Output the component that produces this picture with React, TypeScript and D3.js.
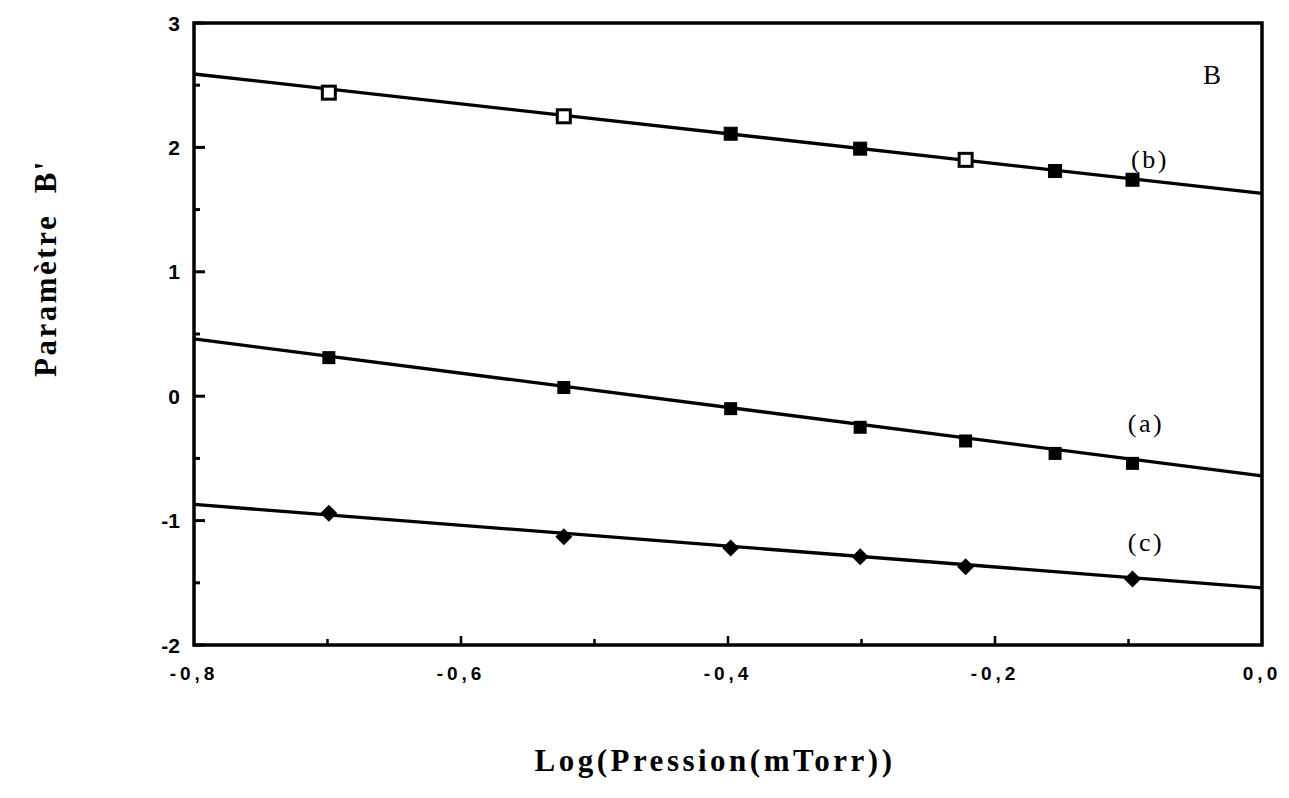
import React from "react";
import * as d3 from "d3";

// Log of pressure (mTorr): log10(0.2) ... log10(0.8)
const logP = [-0.699, -0.523, -0.398, -0.301, -0.222, -0.155, -0.097];
const logPc = [-0.699, -0.523, -0.398, -0.301, -0.222, -0.097];

// Paramètre B' for each series
const seriesA = [0.31, 0.07, -0.1, -0.25, -0.36, -0.46, -0.54];
const seriesB = [2.44, 2.25, 2.11, 1.99, 1.9, 1.81, 1.74];
const seriesC = [-0.94, -1.13, -1.22, -1.29, -1.37, -1.47];
// open (hollow) markers in series (b)
const hollowB = [true, true, false, false, true, false, false];

// fitted straight lines: values at x = -0.8 and x = 0.0
const fitX = [-0.8, 0.0];
const fitA = [0.46, -0.64];
const fitB = [2.59, 1.63];
const fitC = [-0.87, -1.54];

const xTicksMajor = [-0.8, -0.6, -0.4, -0.2, 0.0];
const xTicksMinor = [-0.7, -0.5, -0.3, -0.1];
const xTickLabels = ["-0,8", "-0,6", "-0,4", "-0,2", "0,0"];
const yTicksMajor = [3, 2, 1, 0, -1, -2];
const yTicksMinor = [2.5, 1.5, 0.5, -0.5, -1.5];

const W = 1289;
const H = 798;
const left = 194;
const right = 1262;
const top = 23;
const bottom = 645;

export default function App() {
  const x = d3.scaleLinear().domain([-0.8, 0]).range([left, right]);
  const y = d3.scaleLinear().domain([-2, 3]).range([bottom, top]);
  const line = d3
    .line<[number, number]>()
    .x((d) => x(d[0]))
    .y((d) => y(d[1]));

  const fits = [fitA, fitB, fitC].map((f) =>
    line(fitX.map((xv, i) => [xv, f[i]] as [number, number]))
  );

  const sq = 13;
  const dia = 8.5;
  const tickFont = "'Liberation Sans', Arial, Helvetica, sans-serif";
  const serif = "'Liberation Serif', 'Times New Roman', Times, serif";

  return (
    <svg
      width={W}
      height={H}
      style={{ position: "absolute", left: 0, top: 0, background: "#fff" }}
    >
      {/* fitted lines */}
      {fits.map((d, i) => (
        <path key={i} d={d || ""} fill="none" stroke="#000" strokeWidth={3.3} />
      ))}

      {/* frame */}
      <rect
        x={left}
        y={top}
        width={right - left}
        height={bottom - top}
        fill="none"
        stroke="#000"
        strokeWidth={3.5}
      />

      {/* y ticks */}
      {yTicksMajor.map((t) => (
        <g key={"ym" + t}>
          <line x1={left} x2={left + 11} y1={y(t)} y2={y(t)} stroke="#000" strokeWidth={3} />
          <text
            x={left - 14}
            y={y(t)}
            dy="0.36em"
            textAnchor="end"
            fontFamily={tickFont}
            fontSize={21}
            fontWeight={600}
          >
            {t}
          </text>
        </g>
      ))}
      {yTicksMinor.map((t) => (
        <line key={"yn" + t} x1={left} x2={left + 6} y1={y(t)} y2={y(t)} stroke="#000" strokeWidth={3} />
      ))}

      {/* x ticks */}
      {xTicksMajor.map((t, i) => (
        <g key={"xm" + t}>
          {i > 0 && i < xTicksMajor.length - 1 && (
            <line x1={x(t)} x2={x(t)} y1={bottom} y2={bottom - 9} stroke="#000" strokeWidth={2.5} />
          )}
          <text
            x={x(t)}
            y={bottom + 35}
            textAnchor="middle"
            fontFamily={tickFont}
            fontSize={19}
            fontWeight={600}
            letterSpacing={4}
          >
            {xTickLabels[i]}
          </text>
        </g>
      ))}
      {xTicksMinor.map((t) => (
        <line key={"xn" + t} x1={x(t)} x2={x(t)} y1={bottom} y2={bottom - 6} stroke="#000" strokeWidth={2.5} />
      ))}

      {/* series (b): squares */}
      {logP.map((xv, i) => (
        <rect
          key={"b" + i}
          x={x(xv) - sq / 2}
          y={y(seriesB[i]) - sq / 2}
          width={sq}
          height={sq}
          fill={hollowB[i] ? "#fff" : "#000"}
          stroke="#000"
          strokeWidth={hollowB[i] ? 3 : 1}
        />
      ))}
      {/* series (a): filled squares */}
      {logP.map((xv, i) => (
        <rect
          key={"a" + i}
          x={x(xv) - sq / 2}
          y={y(seriesA[i]) - sq / 2}
          width={sq}
          height={sq}
          fill="#000"
        />
      ))}
      {/* series (c): filled diamonds */}
      {logPc.map((xv, i) => {
        const cx = x(xv);
        const cy = y(seriesC[i]);
        return (
          <path
            key={"c" + i}
            d={`M${cx},${cy - dia}L${cx + dia},${cy}L${cx},${cy + dia}L${cx - dia},${cy}Z`}
            fill="#000"
          />
        );
      })}

      {/* annotations */}
      <text x={1212} y={84} textAnchor="middle" fontFamily={serif} fontSize={27}>
        B
      </text>
      <text x={1150} y={168} textAnchor="middle" fontFamily={serif} fontSize={26} letterSpacing={2.5}>
        (b)
      </text>
      <text x={1146} y={432} textAnchor="middle" fontFamily={serif} fontSize={26} letterSpacing={2.5}>
        (a)
      </text>
      <text x={1146} y={551} textAnchor="middle" fontFamily={serif} fontSize={26} letterSpacing={2.5}>
        (c)
      </text>

      {/* axis titles */}
      <text
        x={715}
        y={771}
        textAnchor="middle"
        fontFamily={serif}
        fontSize={31}
        fontWeight="bold"
        letterSpacing={3.5}
      >
        Log(Pression(mTorr))
      </text>
      <text
        transform={`translate(56,268) rotate(-90)`}
        textAnchor="middle"
        fontFamily={serif}
        fontSize={31}
        fontWeight="bold"
        letterSpacing={2.5}
        style={{ whiteSpace: "pre" }}
      >
        {"Paramètre  B'"}
      </text>
    </svg>
  );
}
